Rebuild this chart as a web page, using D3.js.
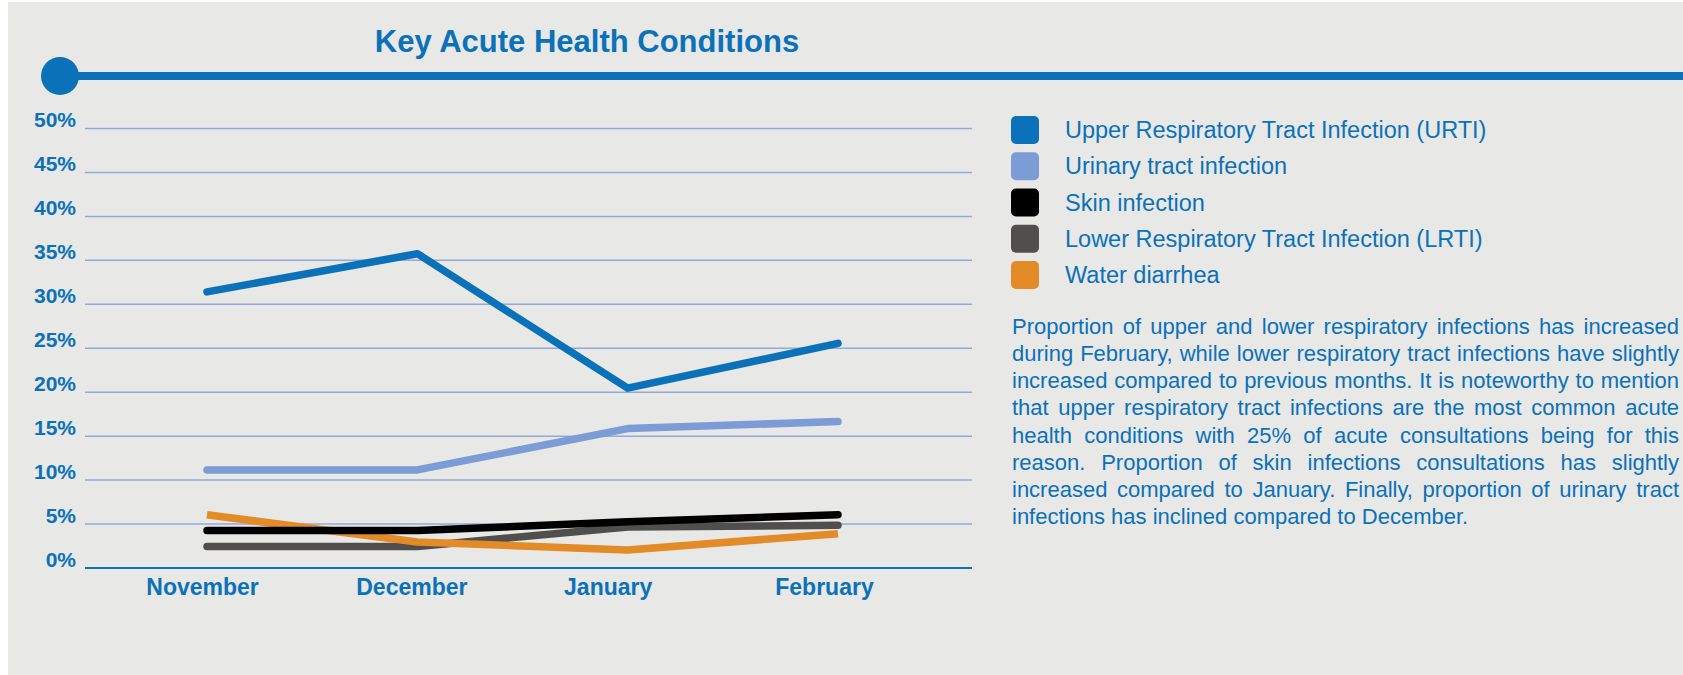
<!DOCTYPE html>
<html>
<head>
<meta charset="utf-8">
<script src="https://cdn.jsdelivr.net/npm/d3@7"></script>
<style>
  body { margin: 0; background: #fff; }
  svg { display: block; font-family: "Liberation Sans", Arial, sans-serif; }
</style>
</head>
<body>
<div id="chart"></div>
<script>
const svgWidth = 1683
const svgHeight = 675

// data
const months = ["November", "December", "January", "February"]
const seriesNames = [
  "Upper Respiratory Tract Infection (URTI)",
  "Urinary tract infection",
  "Skin infection",
  "Lower Respiratory Tract Infection (LRTI)",
  "Water diarrhea"
]
const seriesColors = ["#0b71b9", "#7b9cd4", "#000000", "#504f4d", "#e38b26"]
const urti = [31.35, 35.7, 20.4, 25.5]
const urinary = [11.1, 11.1, 15.8, 16.6]
const skin = [4.2, 4.2, 5.2, 6.0]
const lrti = [2.4, 2.4, 4.6, 4.8]
const diarrhea = [6.0, 2.9, 2.0, 3.85]
const yTicks = [0, 5, 10, 15, 20, 25, 30, 35, 40, 45, 50]

const noteLines = [
  "Proportion of upper and lower respiratory infections has increased",
  "during February, while lower respiratory tract infections have slightly",
  "increased compared to previous months. It is noteworthy to mention",
  "that upper respiratory tract infections are the most common acute",
  "health conditions with 25% of acute consultations being for this",
  "reason. Proportion of skin infections consultations has slightly",
  "increased compared to January. Finally, proportion of urinary tract",
  "infections has inclined compared to December."
]

const blue = "#0b71b9"

let svg = d3
  .select("#chart")
  .append("svg")
  .attr("width", svgWidth)
  .attr("height", svgHeight)

// grey panel
svg.append("rect")
  .attr("x", 8)
  .attr("y", 2)
  .attr("width", svgWidth - 8)
  .attr("height", svgHeight - 2)
  .attr("fill", "#e8e8e6")

// title + header rule
svg.append("text")
  .attr("x", 587)
  .attr("y", 51.5)
  .attr("text-anchor", "middle")
  .attr("fill", blue)
  .style("font-size", "31px")
  .style("font-weight", "bold")
  .text("Key Acute Health Conditions")

svg.append("line")
  .attr("x1", 60)
  .attr("x2", svgWidth)
  .attr("y1", 76)
  .attr("y2", 76)
  .attr("stroke", blue)
  .attr("stroke-width", 8)

svg.append("circle")
  .attr("cx", 60)
  .attr("cy", 76)
  .attr("r", 19)
  .attr("fill", blue)

// scales
let plotLeft = 85
let plotRight = 972

let y = d3.scaleLinear().domain([0, 50]).range([567.5, 128])
let x = d3.scalePoint().domain(months).range([207, 838])
// month labels sit slightly off the data points in the original
let xLabel = d3.scalePoint().domain(months).range([202, 824])
let labelNudge = [0, 2, -9, 0]

// y axis with gridlines
let yAxis = svg.append("g")
  .attr("transform", `translate(${plotLeft}, 0)`)
  .call(
    d3.axisLeft(y)
      .tickValues(yTicks)
      .tickSize(-(plotRight - plotLeft))
      .tickPadding(9)
      .tickFormat(d => d + "%")
  )

yAxis.select(".domain").remove()
yAxis.selectAll(".tick line")
  .attr("stroke", d => d === 0 ? blue : "#93aad8")
  .attr("stroke-width", d => d === 0 ? 2 : 1.5)
yAxis.selectAll(".tick text")
  .attr("fill", blue)
  .attr("dy", "-0.07em")
  .style("font-size", "21px")
  .style("font-weight", "bold")
  .style("font-family", "'Liberation Sans', Arial, sans-serif")

// x axis labels
let xAxis = svg.append("g")
  .attr("transform", "translate(0, 575)")
  .call(d3.axisBottom(xLabel).tickSize(0).tickPadding(0))

xAxis.select(".domain").remove()
xAxis.selectAll(".tick text")
  .attr("fill", blue)
  .attr("dy", "0.87em")
  .attr("dx", (d, i) => labelNudge[i])
  .style("font-size", "23px")
  .style("font-weight", "bold")
  .style("font-family", "'Liberation Sans', Arial, sans-serif")

// lines, bottom layer first
let series = [
  { name: seriesNames[3], values: lrti, color: seriesColors[3], cap: "round" },
  { name: seriesNames[4], values: diarrhea, color: seriesColors[4], cap: "butt" },
  { name: seriesNames[2], values: skin, color: seriesColors[2], cap: "round" },
  { name: seriesNames[1], values: urinary, color: seriesColors[1], cap: "round" },
  { name: seriesNames[0], values: urti, color: seriesColors[0], cap: "round" }
]

let line = d3.line()
  .x((d, i) => x(months[i]))
  .y(d => y(d))

svg.append("g")
  .selectAll("path")
  .data(series)
  .enter()
  .append("path")
  .attr("d", d => line(d.values))
  .attr("fill", "none")
  .attr("stroke", d => d.color)
  .attr("stroke-width", 7.5)
  .attr("stroke-linecap", d => d.cap)
  .attr("stroke-linejoin", "round")

// legend
let legendY = d3.scalePoint().domain(seriesNames).range([130, 275])

let legend = svg.append("g")
  .selectAll("g")
  .data(seriesNames)
  .enter()
  .append("g")
  .attr("transform", d => `translate(0, ${legendY(d)})`)

legend.append("rect")
  .attr("x", 1011)
  .attr("y", -14)
  .attr("width", 28)
  .attr("height", 28)
  .attr("rx", 5)
  .attr("fill", (d, i) => seriesColors[i])

legend.append("text")
  .attr("x", 1065)
  .attr("y", 8)
  .attr("fill", blue)
  .style("font-size", "23.5px")
  .text(d => d)

// justified note paragraph
let noteLeft = 1012
let noteRight = 1679
let note = svg.append("g")
  .attr("fill", blue)
  .style("font-size", "22px")

noteLines.forEach((str, li) => {
  let words = str.split(" ")
  let baseline = 334 + li * 27.15
  let nodes = words.map(w =>
    note.append("text").attr("y", baseline).text(w)
  )
  let widths = nodes.map(n => n.node().getComputedTextLength())
  let total = d3.sum(widths)
  let isLast = li === noteLines.length - 1
  let gap = isLast
    ? 22 * 0.278
    : (noteRight - noteLeft - total) / (words.length - 1)
  let cx = noteLeft
  nodes.forEach((n, i) => {
    n.attr("x", cx)
    cx += widths[i] + gap
  })
})
</script>
</body>
</html>
